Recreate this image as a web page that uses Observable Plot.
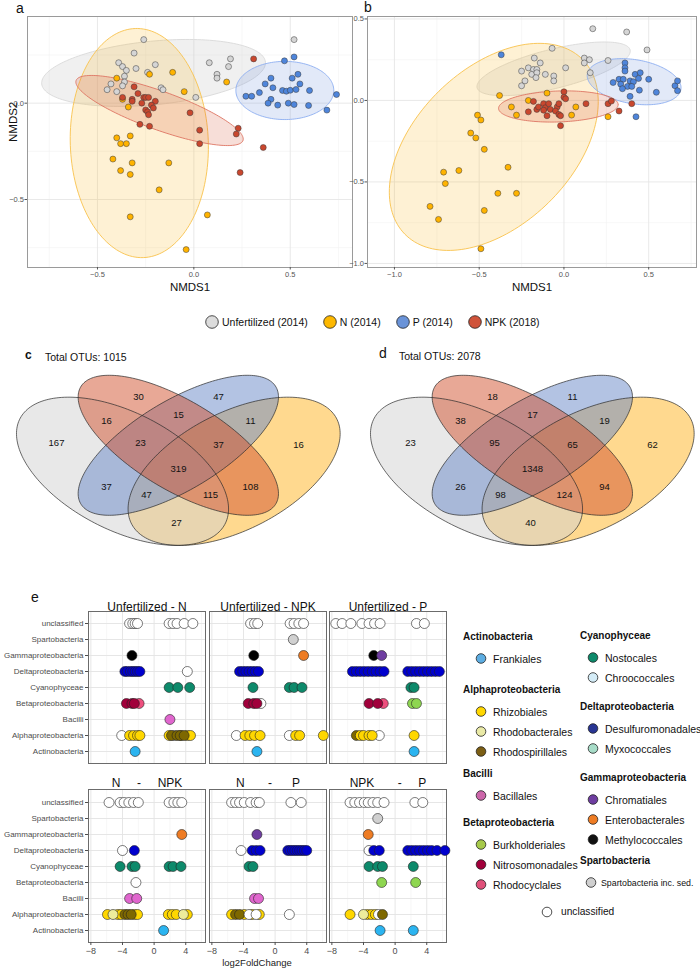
<!DOCTYPE html>
<html><head><meta charset="utf-8">
<script src="https://cdn.jsdelivr.net/npm/d3@7"></script>
<script src="https://cdn.jsdelivr.net/npm/@observablehq/plot@0.6"></script>
<style>
body{margin:0;background:#fff;font-family:"Liberation Sans",Arial,Helvetica,sans-serif;color:#111;}
#root{position:relative;width:700px;height:969px;overflow:hidden;background:#fff;}
.abs{position:absolute;}
.abs svg{overflow:visible;}
</style></head>
<body><div id="root"></div>
<script>
// ---------------- DATA ----------------
const groups = ["Unfertilized (2014)", "N (2014)", "P (2014)", "NPK (2018)"];
// NMDS panel a points [NMDS1, NMDS2]
const aUnf = [[-0.26,0.33],[-0.31,0.26],[-0.39,0.21],[-0.37,0.19],[-0.35,0.17],[-0.30,0.18],[-0.24,0.16],[-0.20,0.20],[-0.36,0.14],[-0.43,0.10],[-0.36,0.11],[-0.45,0.07],[-0.40,0.06],[-0.37,0.09],[-0.17,0.08],[-0.16,0.07],[0.01,0.03],[0.08,0.21],[0.19,0.23],[0.18,0.19],[0.12,0.15],[0.12,0.13],[0.52,0.33]];
const aN = [[-0.40,0.13],[-0.23,0.15],[-0.11,0.16],[-0.37,0.02],[-0.34,-0.02],[-0.05,0.06],[0.17,0.11],[-0.40,-0.18],[-0.38,-0.21],[-0.35,-0.21],[-0.33,-0.17],[-0.42,-0.29],[-0.32,-0.31],[-0.38,-0.35],[-0.33,-0.37],[-0.13,-0.31],[-0.18,-0.45],[-0.33,-0.59],[0.07,-0.58],[-0.04,-0.76]];
const aP = [[0.47,0.22],[0.52,0.24],[0.40,0.13],[0.37,0.10],[0.51,0.13],[0.54,0.15],[0.55,0.10],[0.41,0.08],[0.34,0.055],[0.46,0.066],[0.48,0.062],[0.50,0.067],[0.53,0.071],[0.60,0.066],[0.27,0.036],[0.30,0.036],[0.40,0.02],[0.385,0.0],[0.435,-0.01],[0.49,0.0],[0.52,-0.007],[0.595,-0.012],[0.74,0.045],[0.69,-0.036]];
const aNPK = [[0.31,0.23],[-0.31,0.085],[-0.29,0.05],[-0.37,0.03],[-0.32,0.02],[-0.32,0.01],[-0.26,0.03],[-0.25,0.03],[-0.235,0.03],[-0.20,0.01],[-0.27,0.0],[-0.22,-0.01],[-0.21,-0.025],[-0.25,-0.035],[-0.24,-0.045],[-0.235,-0.06],[-0.02,-0.05],[-0.28,-0.11],[-0.23,-0.12],[0.03,-0.14],[0.03,-0.21],[0.23,-0.13],[0.22,-0.16],[0.36,-0.23],[0.24,-0.36]];
// NMDS panel b points
const bUnf = [[0.17,0.44],[0.37,0.42],[0.49,0.31],[-0.07,0.32],[-0.175,0.26],[-0.14,0.23],[-0.21,0.20],[-0.18,0.19],[-0.16,0.19],[-0.25,0.18],[-0.19,0.16],[-0.16,0.17],[-0.11,0.16],[-0.06,0.15],[-0.165,0.14],[-0.23,0.12],[-0.25,0.09],[-0.06,0.12],[0.01,0.20],[0.12,0.26],[0.15,0.25],[0.12,0.23],[0.155,0.17],[0.26,0.245]];
const bN = [[-0.38,0.03],[-0.21,0.0],[-0.10,0.045],[-0.31,-0.04],[-0.28,-0.09],[0.07,-0.04],[0.045,-0.09],[0.26,-0.10],[-0.51,-0.09],[-0.49,-0.12],[-0.55,-0.20],[-0.52,-0.23],[-0.47,-0.30],[-0.33,-0.41],[-0.62,-0.43],[-0.71,-0.44],[-0.70,-0.51],[-0.39,-0.57],[-0.28,-0.57],[-0.79,-0.65],[-0.74,-0.73],[-0.47,-0.675],[-0.49,-0.91]];
const bP = [[-0.37,0.28],[0.36,0.23],[0.36,0.20],[0.36,0.18],[0.42,0.16],[0.45,0.17],[0.325,0.13],[0.35,0.13],[0.29,0.11],[0.335,0.10],[0.39,0.12],[0.41,0.115],[0.44,0.135],[0.50,0.13],[0.375,0.086],[0.345,0.072],[0.40,0.086],[0.445,0.063],[0.39,0.025],[0.545,0.05],[0.655,0.09],[0.67,0.12],[0.67,0.06],[0.425,-0.10]];
const bNPK = [[0.0,0.053],[0.0,0.02],[0.01,0.01],[-0.18,-0.006],[-0.21,-0.07],[-0.16,-0.055],[-0.15,-0.04],[-0.12,-0.02],[-0.11,-0.045],[-0.09,-0.02],[-0.08,-0.055],[-0.12,-0.06],[-0.10,-0.094],[-0.04,-0.04],[-0.03,-0.02],[-0.05,-0.065],[-0.03,-0.086],[-0.02,-0.094],[-0.02,-0.155],[0.13,-0.02],[0.26,-0.02],[0.28,-0.004],[0.325,-0.065],[0.40,-0.02]];
// 95% ellipses [cx, cy, semi-major, semi-minor, angle deg]
const aEll = {Unf:[-0.209,0.157,0.583,0.165,5.6], N:[-0.283,-0.207,0.595,0.358,92], P:[0.472,0.066,0.254,0.151,0], NPK:[-0.178,-0.038,0.46,0.10,-19.8]};
const bEll = {Unf:[-0.061,0.194,0.466,0.12,14.5], N:[-0.414,-0.285,0.75,0.47,47], P:[0.414,0.115,0.28,0.135,-10], NPK:[-0.033,-0.037,0.353,0.095,2]};
const nmdsTicks = [-1, -0.5, 0, 0.5];
const nmdsMinor = [-0.75, -0.25, 0.25, 0.75];

// Venn: region keys (U=Unfertilized, K=NPK, P=P, N=N) and OTU counts
const vennRegions = ["U","K","P","N","UK","KP","PN","UKP","KPN","UKPN","UP","KN","UPN","UKN","UN"];
const vennCountsC = [167,30,47,16,16,15,11,23,37,319,37,108,47,115,27];
const vennCountsD = [23,18,11,62,38,17,19,95,65,1348,26,94,98,124,40];

// Differential abundance: [class, order, log2FoldChange values]
const eClasses = ["unclassified","Spartobacteria","Gammaproteobacteria","Deltaproteobacteria","Cyanophyceae","Betaproteobacteria","Bacilli","Alphaproteobacteria","Actinobacteria"];
const eUnfN = [
 ["unclassified","unclassified",[-3.1,-2.7,-2.4,-2.1,1.9,2.4,2.9,3.8,4.9]],
 ["Gammaproteobacteria","Methylococcales",[-2.8]],
 ["Deltaproteobacteria","Desulfuromonadales",[-3.7,-3.4,-3.0,-2.7,-2.4,-2.1,-1.8]],
 ["Deltaproteobacteria","unclassified",[4.2]],
 ["Cyanophyceae","Nostocales",[1.9,3.0,4.5]],
 ["Betaproteobacteria","Rhodocyclales",[-1.9]],
 ["Betaproteobacteria","Nitrosomonadales",[-3.5,-2.8,-2.5]],
 ["Bacilli","Bacillales",[2.0]],
 ["Alphaproteobacteria","unclassified",[-4.1,2.5]],
 ["Alphaproteobacteria","Rhizobiales",[-3.1,-2.6,-2.1,-1.8,1.9,3.4,4.2,4.6]],
 ["Alphaproteobacteria","Rhodospirillales",[2.2,2.9,3.3,3.8]],
 ["Actinobacteria","Frankiales",[-2.4]]
];
const eUnfNPK = [
 ["unclassified","unclassified",[-3.1,-2.6,-2.2,1.9,2.4,3.0,3.6]],
 ["Spartobacteria","Spartobacteria inc. sed.",[2.3]],
 ["Gammaproteobacteria","Methylococcales",[-2.7]],
 ["Gammaproteobacteria","Enterobacterales",[3.6]],
 ["Deltaproteobacteria","Desulfuromonadales",[-4.5,-4.1,-3.7,-3.3,-2.9,-2.5,-2.1]],
 ["Cyanophyceae","Nostocales",[-2.8,1.8,2.4,3.4]],
 ["Betaproteobacteria","unclassified",[-1.8]],
 ["Betaproteobacteria","Nitrosomonadales",[-3.4,-2.7,-2.3]],
 ["Alphaproteobacteria","unclassified",[-4.9,1.8]],
 ["Alphaproteobacteria","Rhizobiales",[-3.8,-3.2,-2.6,-1.9,2.6,3.1,6.1]],
 ["Actinobacteria","Frankiales",[-2.3]]
];
const eUnfP = [
 ["unclassified","unclassified",[-7.5,-6.7,-5.6,-4.2,-3.3,-2.6,-1.9,2.7,3.7]],
 ["Gammaproteobacteria","Methylococcales",[-2.7]],
 ["Gammaproteobacteria","Chromatiales",[-1.7]],
 ["Deltaproteobacteria","Desulfuromonadales",[-5.4,-4.9,-4.4,-3.9,-3.4,-2.9,-2.4,-1.9,-1.4,1.6,2.1,2.6,3.1,3.6,4.1,4.6,5.1,5.6]],
 ["Cyanophyceae","Nostocales",[2.0,2.4]],
 ["Betaproteobacteria","Rhodocyclales",[-1.5]],
 ["Betaproteobacteria","Nitrosomonadales",[-3.3,-2.2]],
 ["Betaproteobacteria","Burkholderiales",[2.2,2.7]],
 ["Alphaproteobacteria","Rhodospirillales",[-4.9]],
 ["Alphaproteobacteria","unclassified",[-2.0]],
 ["Alphaproteobacteria","Rhizobiales",[-4.4,-4.0,-3.3,-2.9,2.4]],
 ["Actinobacteria","Frankiales",[2.4]]
];
const eNNPK = [
 ["unclassified","unclassified",[-5.7,-4.3,-3.8,-3.2,-2.6,-2.0,1.9,2.5,3.0,3.5]],
 ["Gammaproteobacteria","Enterobacterales",[3.5]],
 ["Deltaproteobacteria","unclassified",[-4.0]],
 ["Deltaproteobacteria","Desulfuromonadales",[-2.5]],
 ["Cyanophyceae","Nostocales",[-4.3,-2.8,-2.4,1.9,2.4,3.4]],
 ["Betaproteobacteria","unclassified",[-2.3]],
 ["Bacilli","Bacillales",[-3.1,-2.2]],
 ["Alphaproteobacteria","Rhizobiales",[-5.9,-4.6,-4.2,-2.5,-2.1,1.8,2.3,2.8,4.2]],
 ["Alphaproteobacteria","Rhodobacterales",[-5.2,3.7]],
 ["Alphaproteobacteria","Rhodospirillales",[-3.7,-3.3,-2.9]],
 ["Actinobacteria","Frankiales",[1.2]]
];
const eNP = [
 ["unclassified","unclassified",[-5.5,-5.0,-4.5,-3.9,-3.1,-2.4,-2.0,2.0,3.3]],
 ["Gammaproteobacteria","Chromatiales",[-2.3]],
 ["Deltaproteobacteria","unclassified",[-4.3]],
 ["Deltaproteobacteria","Desulfuromonadales",[-2.9,-2.4,-1.9,1.6,1.9,2.2,2.5,2.8,3.1,3.4,3.7,4.0]],
 ["Cyanophyceae","Nostocales",[-3.3,-2.8]],
 ["Bacilli","Bacillales",[-2.6,-2.1]],
 ["Alphaproteobacteria","Rhizobiales",[-5.5,-3.9,-2.9,-2.0]],
 ["Alphaproteobacteria","Rhodospirillales",[-5.0,-4.5]],
 ["Alphaproteobacteria","unclassified",[-3.3,-2.4,1.8]]
];
const eNPKP = [
 ["unclassified","unclassified",[-5.7,-5.1,-4.5,-3.9,-3.4,-2.8,-2.2,-1.4,2.5,3.5]],
 ["Spartobacteria","Spartobacteria inc. sed.",[-2.2]],
 ["Gammaproteobacteria","Enterobacterales",[-3.4]],
 ["Deltaproteobacteria","unclassified",[-3.3]],
 ["Deltaproteobacteria","Desulfuromonadales",[-2.7,-2.0,1.6,2.1,2.6,3.1,3.6,4.1,4.6,5.3,6.3]],
 ["Cyanophyceae","Nostocales",[-3.3,-2.2,-1.6,2.3]],
 ["Betaproteobacteria","Burkholderiales",[-1.7,2.6]],
 ["Alphaproteobacteria","Rhizobiales",[-5.7,-3.5,-3.0,-2.5]],
 ["Alphaproteobacteria","Rhodobacterales",[-4.0]],
 ["Alphaproteobacteria","unclassified",[-2.1]],
 ["Alphaproteobacteria","Rhodospirillales",[-1.6]],
 ["Actinobacteria","Frankiales",[-1.9,2.3]]
];
const eTitles = ["Unfertilized - N","Unfertilized - NPK","Unfertilized - P",
  "N\u00a0\u00a0\u00a0\u00a0\u00a0-\u00a0\u00a0\u00a0\u00a0\u00a0NPK",
  "N\u00a0\u00a0\u00a0\u00a0\u00a0\u00a0\u00a0-\u00a0\u00a0\u00a0\u00a0\u00a0\u00a0P",
  "NPK\u00a0\u00a0\u00a0\u00a0\u00a0\u00a0\u00a0-\u00a0\u00a0\u00a0\u00a0\u00a0P"];
const eTicks = [-8, -4, 0, 4];
const eMinor = [-6, -2, 2, 6];
const legendGroups = [
 ["Actinobacteria",["Frankiales"]],
 ["Alphaproteobacteria",["Rhizobiales","Rhodobacterales","Rhodospirillales"]],
 ["Bacilli",["Bacillales"]],
 ["Betaproteobacteria",["Burkholderiales","Nitrosomonadales","Rhodocyclales"]],
 ["Cyanophyceae",["Nostocales","Chroococcales"]],
 ["Deltaproteobacteria",["Desulfuromonadales","Myxococcales"]],
 ["Gammaproteobacteria",["Chromatiales","Enterobacterales","Methylococcales"]],
 ["Spartobacteria",["Spartobacteria inc. sed."]]
];

// ---------------- STYLES ----------------
const FONT = '"Liberation Sans", Arial, Helvetica, sans-serif';
const plotStyle = {background:"transparent", overflow:"visible", maxWidth:"none", fontFamily: FONT};
const grpPoint = {Unf:"#D5D5D5", N:"#FFB300", P:"#4E85DB", NPK:"#C9472E"};
const grpEllFill = {Unf:"#C8C8C8", N:"#FBBA2A", P:"#6F93DD", NPK:"#D65A3A"};
const grpEllStroke = {Unf:"#D9D9D9", N:"#F8C24C", P:"#8CAEF0", NPK:"#DE7563"};
const grpLegend = ["#DCDCDC", "#FDB800", "#6A93D8", "#D0533A"];
const vennFill = ["#D1D1D1", "#D1512D", "#6888C8", "#FFB31F"]; // U, K, P, N
const orderColors = {
 Frankiales:"#2BB4F0", Rhizobiales:"#FFD700", Rhodobacterales:"#EDEC9C", Rhodospirillales:"#7E6800",
 Bacillales:"#E066CE", Burkholderiales:"#8ED650", Nitrosomonadales:"#A1003B", Rhodocyclales:"#EE4F7E",
 Nostocales:"#0D8A6B", Chroococcales:"#D4ECF7", Desulfuromonadales:"#0000CD", Myxococcales:"#A7DCC8",
 Chromatiales:"#6E3DA0", Enterobacterales:"#EE7C24", Methylococcales:"#000000",
 "Spartobacteria inc. sed.":"#D0D0D0", unclassified:"#FFFFFF"
};
const legendColors = Object.assign({}, orderColors, {
 Frankiales:"#5DADE2", Rhodobacterales:"#E9E9A6", Rhodospirillales:"#7B5E14", Bacillales:"#CC66AA",
 Burkholderiales:"#A6C94A", Rhodocyclales:"#E0507A", Desulfuromonadales:"#283593", Methylococcales:"#111111"
});

// ---------------- HELPERS ----------------
const root = document.getElementById("root");
function place(node, left, top) {
  const d = document.createElement("div");
  d.className = "abs"; d.style.left = left + "px"; d.style.top = top + "px";
  d.appendChild(node); root.appendChild(d); return d;
}
function txt(s, x, y, size, opt = {}) {
  const d = document.createElement("div");
  d.textContent = s;
  d.style.cssText = `position:absolute;left:${x}px;top:${y}px;font-size:${size}px;font-weight:${opt.weight||"normal"};color:${opt.color||"#111"};line-height:1;white-space:pre;transform:translate(${opt.anchor==="middle"?"-50%":"0"},-50%);`;
  root.appendChild(d); return d;
}
function ellipsePts([cx, cy, a, b, deg], n = 160) {
  const t = deg * Math.PI / 180;
  return d3.range(n).map(i => {
    const s = 2 * Math.PI * i / n;
    return {x: cx + a*Math.cos(s)*Math.cos(t) - b*Math.sin(s)*Math.sin(t),
            y: cy + a*Math.cos(s)*Math.sin(t) + b*Math.sin(s)*Math.cos(t)};
  });
}

// ---------------- PANELS a & b ----------------
function nmdsPanel(cfg) {
  const inX = v => v >= cfg.xDomain[0] && v <= cfg.xDomain[1];
  const inY = v => v >= cfg.yDomain[0] && v <= cfg.yDomain[1];
  const keys = ["Unf","N","P","NPK"];
  const marks = [
    Plot.gridX(nmdsMinor.filter(inX), {stroke:"#F2F2F2", strokeOpacity:1, strokeWidth:0.6}),
    Plot.gridY(nmdsMinor.filter(inY), {stroke:"#F2F2F2", strokeOpacity:1, strokeWidth:0.6}),
    Plot.gridX(nmdsTicks.filter(inX), {stroke:"#E6E6E6", strokeOpacity:1, strokeWidth:0.9}),
    Plot.gridY(nmdsTicks.filter(inY), {stroke:"#E6E6E6", strokeOpacity:1, strokeWidth:0.9}),
  ];
  for (const k of keys) marks.push(Plot.line(ellipsePts(cfg.ell[k]), {x:"x", y:"y", curve:"linear-closed",
      fill: grpEllFill[k], fillOpacity: k === "Unf" ? 0.28 : 0.2, stroke: grpEllStroke[k], strokeWidth: 0.9}));
  for (const k of keys) marks.push(Plot.dot(cfg.pts[k], {x: d => d[0], y: d => d[1], r: 3,
      fill: grpPoint[k], stroke: "#3a3a3a", strokeWidth: 0.5}));
  marks.push(
    Plot.frame({stroke:"#9A9A9A", strokeWidth:1}),
    Plot.axisX(nmdsTicks.filter(inX), {tickSize:2.5, tickPadding:1.5, fontSize:7.5, tickFormat:d3.format(".1f"), label:null, color:"#555"}),
    Plot.axisY(nmdsTicks.filter(inY), {tickSize:2.5, tickPadding:1, fontSize:7.5, tickFormat:d3.format(".1f"), label:null, color:"#555"}),
    Plot.text(["NMDS1"], {frameAnchor:"bottom", dy:23, fontSize:11.5, fill:"#111"})
  );
  if (cfg.ylab) marks.push(Plot.text(["NMDS2"], {frameAnchor:"left", dx:-14, rotate:-90, fontSize:11.5, fill:"#111"}));
  return Plot.plot({
    width: cfg.width, height: 300, marginLeft: cfg.ml, marginRight: cfg.mr, marginTop: 16, marginBottom: 33,
    x: {domain: cfg.xDomain, axis: null}, y: {domain: cfg.yDomain, axis: null},
    style: plotStyle, marks
  });
}
place(nmdsPanel({width:360, ml:27, mr:8, xDomain:[-0.863,0.823], yDomain:[-0.853,0.45], ell:aEll,
  pts:{Unf:aUnf, N:aN, P:aP, NPK:aNPK}, ylab:true}), 0, 0);
place(nmdsPanel({width:350, ml:17, mr:4, xDomain:[-1.159,0.782], yDomain:[-1.025,0.515], ell:bEll,
  pts:{Unf:bUnf, N:bN, P:bP, NPK:bNPK}, ylab:false}), 350, 0);
txt("a", 16, 8, 14);
txt("b", 364, 7, 14);

// legend row
{
  const row = document.createElement("div");
  row.style.cssText = "position:absolute;left:205px;top:322px;transform:translateY(-50%);display:flex;align-items:center;gap:15px;font-size:10.5px;color:#111;";
  groups.forEach((g, i) => {
    const it = document.createElement("span");
    it.style.cssText = "display:flex;align-items:center;gap:3px;white-space:nowrap;";
    it.innerHTML = `<svg width="14" height="14"><circle cx="7" cy="7" r="6.3" fill="${grpLegend[i]}" stroke="#222" stroke-width="0.8"/></svg><span>${g}</span>`;
    row.appendChild(it);
  });
  root.appendChild(row);
}

// ---------------- VENN c & d ----------------
const VS = {sx: 372, sy: 260, u0: 0.022, vTop: 1.0115, H: 230, top: 330};
const vennShapes = [[0.35,0.47,0.35,0.20,-45],[0.50,0.57,0.35,0.15,-45],[0.50,0.57,0.35,0.15,45],[0.65,0.47,0.35,0.20,45]];
const vennKeyBit = {U:1, K:2, P:4, N:8};
function inEllipse([cx, cy, a, b, deg], u, v) {
  const t = deg*Math.PI/180, du = u-cx, dv = v-cy;
  const p = du*Math.cos(t) + dv*Math.sin(t), q = -du*Math.sin(t) + dv*Math.cos(t);
  return (p*p)/(a*a) + (q*q)/(b*b) <= 1;
}
function membership(u, v) { let c = 0; vennShapes.forEach((e, i) => { if (inEllipse(e, u, v)) c |= 1 << i; }); return c; }
function vennLabelPositions(W) {
  const step = 2, nx = Math.floor(W/step)+1, ny = Math.floor(VS.H/step)+1;
  const codes = new Int16Array(nx*ny);
  for (let j = 0; j < ny; j++) for (let i = 0; i < nx; i++)
    codes[j*nx+i] = membership(VS.u0 + i*step/VS.sx, VS.vTop - j*step/VS.sy);
  const regions = new Map();
  for (let j = 0; j < ny; j++) for (let i = 0; i < nx; i++) {
    const c = codes[j*nx+i]; if (!c) continue;
    if (!regions.has(c)) regions.set(c, {pts: [], edge: []});
    const r = regions.get(c); r.pts.push([i, j]);
    const nb = [[i-1,j],[i+1,j],[i,j-1],[i,j+1]];
    if (nb.some(([a, b]) => a < 0 || b < 0 || a >= nx || b >= ny || codes[b*nx+a] !== c)) r.edge.push([i, j]);
  }
  const out = new Map();
  for (const [c, r] of regions) {
    let best = r.pts[0], bd = -1;
    for (const [i, j] of r.pts) {
      let m = Infinity;
      for (const [a, b] of r.edge) { const d = (a-i)*(a-i) + (b-j)*(b-j); if (d < m) { m = d; if (m <= bd) break; } }
      if (m > bd) { bd = m; best = [i, j]; }
    }
    out.set(c, {u: VS.u0 + best[0]*step/VS.sx, v: VS.vTop - best[1]*step/VS.sy});
  }
  return out;
}
function vennPanel(W, counts) {
  const pos = vennLabelPositions(W);
  const labels = vennRegions.map((r, i) => {
    const code = [...r].reduce((s, ch) => s | vennKeyBit[ch], 0);
    const p = pos.get(code) || {u: 0, v: 0};
    return {u: p.u, v: p.v, n: String(counts[i])};
  });
  const order = [3, 0, 2, 1];
  const marks = [];
  for (const i of order) marks.push(Plot.line(ellipsePts(vennShapes[i], 200), {x:"x", y:"y", curve:"linear-closed", fill: vennFill[i], fillOpacity: 0.5, stroke: "none"}));
  for (const i of [0,1,2,3]) marks.push(Plot.line(ellipsePts(vennShapes[i], 200), {x:"x", y:"y", curve:"linear-closed", fill: "none", stroke: "#2a2a2a", strokeWidth: 0.7}));
  marks.push(Plot.text(labels, {x:"u", y:"v", text:"n", fontSize: 9.5, fill:"#111"}));
  return Plot.plot({
    width: W, height: VS.H, margin: 0,
    x: {domain: [VS.u0, VS.u0 + W/VS.sx], axis: null},
    y: {domain: [VS.vTop - VS.H/VS.sy, VS.vTop], axis: null},
    style: plotStyle, marks
  });
}
place(vennPanel(350, vennCountsC), 0, VS.top);
place(vennPanel(346, vennCountsD), 354, VS.top);
txt("c", 25, 355, 12, {weight:"bold"});
txt("Total OTUs: " + d3.sum(vennCountsC), 45, 357, 10.5);
txt("d", 379, 353, 14);
txt("Total OTUs: " + d3.sum(vennCountsD), 399, 356, 10.5);

// ---------------- PANEL e ----------------
const eData = [eUnfN, eUnfNPK, eUnfP, eNNPK, eNP, eNPKP];
const eColLeft = [88, 208.5, 329], eFrameW = 117, eRowTop = [611, 789], eFrameH = [152, 153];
eData.forEach((rows, k) => {
  const row = Math.floor(k / 3), col = k % 3;
  const pts = rows.flatMap(([cls, order, vals]) => vals.map(v => ({cls, order, lfc: v})));
  const ml = col === 0 ? 88 : 0, mb = row === 1 ? 26 : 0, mt = 20;
  const marks = [
    Plot.gridX(eMinor, {stroke:"#F0F0F0", strokeOpacity:1, strokeWidth:0.6}),
    Plot.gridX(eTicks, {stroke:"#E3E3E3", strokeOpacity:1, strokeWidth:0.9}),
    Plot.gridY(eClasses, {stroke:"#E3E3E3", strokeOpacity:1, strokeWidth:0.9}),
    Plot.frame({stroke:"#6B6B6B", strokeWidth:1}),
    Plot.dot(pts, {x:"lfc", y:"cls", r:5, fill: d => orderColors[d.order], stroke:"#222", strokeWidth:0.6}),
    Plot.text([eTitles[k]], {frameAnchor:"top", dy: row === 0 ? -9 : -11, fontSize:12, fill:"#111"})
  ];
  if (col === 0) marks.push(Plot.axisY(eClasses, {tickSize:3, tickPadding:2, fontSize:8, label:null, color:"#4d4d4d"}));
  if (row === 1) marks.push(Plot.axisX(eTicks, {tickSize:3, tickPadding:2, fontSize:9, label:null, color:"#4d4d4d"}));
  const p = Plot.plot({
    width: ml + eFrameW, height: mt + eFrameH[row] + mb,
    marginLeft: ml, marginRight: 0, marginTop: mt, marginBottom: mb,
    x: {domain: [-8.3, 6.5], axis: null},
    y: {type: "point", domain: eClasses, padding: 0.6, axis: null},
    color: {type: "identity"},
    style: plotStyle, marks
  });
  place(p, eColLeft[col] - ml, eRowTop[row] - mt);
});
txt("e", 31, 597, 14);
txt("log2FoldChange", 257, 963, 9.5, {anchor:"middle", color:"#222"});

// legend for e
{
  const cols = [{hx:463, cx:481, tx:493}, {hx:580, cx:593, tx:605}];
  const headerY = [637, 690, 774, 823, 636, 707, 778, 861];
  const svgNS = "http://www.w3.org/2000/svg";
  const sw = document.createElementNS(svgNS, "svg");
  sw.setAttribute("width", 700); sw.setAttribute("height", 969);
  sw.style.cssText = "position:absolute;left:0;top:0;overflow:visible;pointer-events:none;";
  const dot = (x, y, c) => { const ci = document.createElementNS(svgNS, "circle");
    ci.setAttribute("cx", x); ci.setAttribute("cy", y); ci.setAttribute("r", 4.8);
    ci.setAttribute("fill", c); ci.setAttribute("stroke", "#222"); ci.setAttribute("stroke-width", 0.8); sw.appendChild(ci); };
  legendGroups.forEach(([cls, orders], gi) => {
    const c = cols[gi < 4 ? 0 : 1], hy = headerY[gi];
    txt(cls, c.hx, hy, 10, {weight:"bold"});
    orders.forEach((o, j) => {
      const y = hy + 21.5 + 20*j;
      const long = o.length > 20;
      dot(long ? c.cx - 2 : c.cx, y, legendColors[o]);
      txt(o, long ? c.tx - 4 : c.tx, y, long ? 8.8 : 10.5);
    });
  });
  dot(547, 912, legendColors.unclassified);
  txt("unclassified", 561, 912, 10.2);
  root.appendChild(sw);
}
</script></body></html>
